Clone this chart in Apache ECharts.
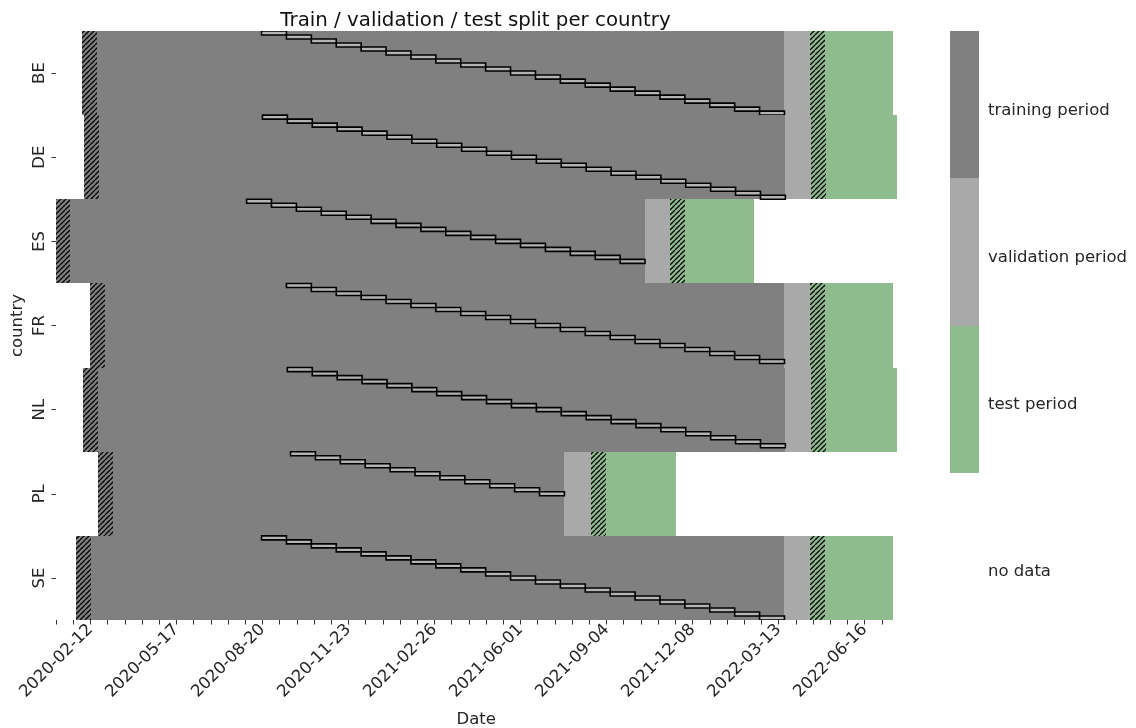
<!DOCTYPE html>
<html>
<head>
<meta charset="utf-8">
<script src="https://cdn.jsdelivr.net/npm/echarts@6/dist/echarts.min.js"></script>
<style>
  html, body { margin: 0; padding: 0; background: #fff; }
  #chart { width: 1136px; height: 728px; }
</style>
</head>
<body>
<div id="chart"></div>
<script>
// Countries, top to bottom
const countries = ['BE', 'DE', 'ES', 'FR', 'NL', 'PL', 'SE'];
// First day of the training period
const trainStart = ['2020-02-03', '2020-02-05', '2020-01-05', '2020-02-12', '2020-02-04', '2020-02-21', '2020-01-28'];
// First day of the validation period
const valStart = ['2022-03-20', '2022-03-21', '2021-10-17', '2022-03-20', '2022-03-21', '2021-07-20', '2022-03-20'];
// First day of the test period
const testStart = ['2022-04-17', '2022-04-18', '2021-11-14', '2022-04-17', '2022-04-18', '2021-08-18', '2022-04-17'];
// Last day of the test period
const testEnd = ['2022-07-17', '2022-07-21', '2022-02-13', '2022-07-17', '2022-07-21', '2021-11-19', '2022-07-17'];
// Number of rolling folds inside the training period (the last one ends at validation start)
const foldCount = [21, 21, 16, 20, 20, 11, 21];
const foldDays = 27.5;      // length of one fold, days
const warmupDays = 16.5;    // hatched warm-up window at the start of training and of test
const maxFolds = 21;        // fold slots stacked inside one country band

// Date axis
const firstDay = '2020-01-05';
const lastDay = '2022-07-21';
const tickStepDays = 19;
const tickLabels = ['2020-02-12', '2020-05-17', '2020-08-20', '2020-11-23', '2021-02-26',
                    '2021-06-01', '2021-09-04', '2021-12-08', '2022-03-13', '2022-06-16'];

// Colour bar: categories, colours and where each label sits on the 0..4 bar scale
const periodNames = ['training period', 'validation period', 'test period', 'no data'];
const periodColors = ['#808080', '#a9a9a9', '#8fbc8f', '#ffffff'];
const periodTickPos = [0.54, 1.54, 2.54, 3.67];

const DAY = 86400000;
const BASE = Date.parse(firstDay + 'T00:00:00Z');
const dayOf = s => Math.round((Date.parse(s + 'T00:00:00Z') - BASE) / DAY);
const dateOf = d => new Date(BASE + d * DAY).toISOString().slice(0, 10);

const lastIdx = dayOf(lastDay);
const tickDays = [];
for (let d = 0; d <= lastIdx; d += tickStepDays) tickDays.push(d);
const labelDays = tickLabels.map(dayOf);

// one row per country: [row, trainStart, valStart, testStart, testEnd, folds]
const rows = countries.map((c, i) => [
  i, dayOf(trainStart[i]), dayOf(valStart[i]), dayOf(testStart[i]), dayOf(testEnd[i]), foldCount[i]
]);

// diagonal hatch pattern
function makeHatch() {
  const s = 5;
  const cv = document.createElement('canvas');
  cv.width = s; cv.height = s;
  const ctx = cv.getContext('2d');
  ctx.strokeStyle = '#000';
  ctx.lineWidth = 1.3;
  ctx.beginPath();
  for (const o of [-s, 0, s]) {
    ctx.moveTo(o, s);
    ctx.lineTo(o + s, 0);
  }
  ctx.stroke();
  return { image: cv, repeat: 'repeat' };
}
const hatch = makeHatch();

function renderRow(params, api) {
  const row = api.value(0);
  const tS = api.value(1), vS = api.value(2), teS = api.value(3), tE = api.value(4), n = api.value(5);
  const bandH = api.size([0, 1])[1];
  const yc = api.coord([0, row])[1];
  const top = Math.round(yc - bandH / 2);
  const bottom = Math.round(yc + bandH / 2);
  const h = bottom - top;
  // a day's cell spans [d - 0.5, d + 0.5]
  const X = d => api.coord([d, row])[0];
  const XR = d => Math.round(X(d));
  const rect = (x0, x1, y0, hh, style) => ({
    type: 'rect', shape: { x: x0, y: y0, width: x1 - x0, height: hh }, style
  });
  const children = [];
  children.push(rect(XR(tS - 0.5), XR(vS - 0.5), top, h, { fill: periodColors[0] }));
  children.push(rect(XR(vS - 0.5), XR(teS - 0.5), top, h, { fill: periodColors[1] }));
  children.push(rect(XR(teS - 0.5), XR(tE + 0.5), top, h, { fill: periodColors[2] }));
  // rolling folds, stepping down one slot each
  const fh = bandH / maxFolds;
  const ftop = yc - bandH / 2;
  for (let j = 0; j < n; j++) {
    const a = vS - 0.5 - (n - j) * foldDays;
    const b = a + foldDays;
    children.push(rect(X(a), X(b), ftop + j * fh, fh, {
      fill: '#b4b4b4', stroke: '#000', lineWidth: 1.6
    }));
  }
  // warm-up windows
  children.push(rect(XR(tS - 0.5), XR(tS - 0.5 + warmupDays), top, h, { fill: hatch }));
  children.push(rect(XR(teS - 0.5), XR(teS - 0.5 + warmupDays), top, h, { fill: hatch }));
  return { type: 'group', children };
}

function renderBarSegment(params, api) {
  const i = api.value(0);
  const p0 = api.coord([0, i]);
  const p1 = api.coord([1, i + 1]);
  const y0 = Math.round(p0[1]), y1 = Math.round(p1[1]);
  return {
    type: 'rect',
    shape: { x: Math.round(p0[0]), y: y0, width: Math.round(p1[0] - p0[0]), height: y1 - y0 },
    style: { fill: periodColors[i] }
  };
}

const textColor = '#262626';
const fontFamily = 'DejaVu Sans';
const fs = 16.5;

const chart = echarts.init(document.getElementById('chart'), null, { renderer: 'canvas' });
chart.setOption({
  animation: false,
  backgroundColor: '#fff',
  textStyle: { fontFamily },
  title: {
    text: 'Train / validation / test split per country',
    left: 470.5, top: 6, textAlign: 'center',
    textStyle: { fontFamily, fontSize: 19.8, fontWeight: 'normal', color: '#111' }
  },
  grid: [
    { left: 55.55, top: 31, width: 841.2, height: 589, containLabel: false, outerBoundsMode: 'none' },
    { left: 950, top: 31, width: 29, height: 589, containLabel: false, outerBoundsMode: 'none' }
  ],
  xAxis: [
    {
      gridIndex: 0, type: 'value', min: -0.5, max: lastIdx + 0.5,
      name: 'Date', nameLocation: 'middle', nameGap: 91, nameMoveOverlap: false,
      nameTextStyle: { fontFamily, fontSize: fs, color: textColor },
      axisLine: { show: false },
      splitLine: { show: false },
      axisTick: { show: true, customValues: tickDays, length: 4.5, lineStyle: { color: '#333', width: 1 } },
      axisLabel: {
        customValues: labelDays, rotate: 45, margin: 7,
        fontFamily, fontSize: fs, color: textColor,
        formatter: v => dateOf(v)
      }
    },
    { gridIndex: 1, type: 'value', min: 0, max: 1, show: false }
  ],
  yAxis: [
    {
      gridIndex: 0, type: 'category', data: countries, inverse: true,
      name: 'country', nameLocation: 'middle', nameGap: 29, nameRotate: 90, nameMoveOverlap: false,
      nameTextStyle: { fontFamily, fontSize: fs, color: textColor },
      axisLine: { show: false },
      splitLine: { show: false },
      axisTick: { show: true, alignWithLabel: true, length: 4.5, lineStyle: { color: '#333' } },
      axisLabel: { rotate: 90, margin: 7.5, fontFamily, fontSize: fs, color: textColor }
    },
    {
      gridIndex: 1, type: 'value', min: 0, max: periodNames.length, inverse: true, position: 'right',
      axisLine: { show: false },
      splitLine: { show: false },
      axisTick: { show: true, customValues: periodTickPos, length: 4.5, lineStyle: { color: '#333' } },
      axisLabel: {
        customValues: periodTickPos, margin: 9, fontFamily, fontSize: fs, color: textColor,
        formatter: v => {
          let best = 0;
          periodTickPos.forEach((p, k) => { if (Math.abs(p - v) < Math.abs(periodTickPos[best] - v)) best = k; });
          return periodNames[best];
        }
      }
    }
  ],
  series: [
    {
      type: 'custom', xAxisIndex: 0, yAxisIndex: 0,
      renderItem: renderRow,
      data: rows,
      encode: { x: [1, 2, 3, 4], y: 0 },
      clip: true
    },
    {
      type: 'custom', xAxisIndex: 1, yAxisIndex: 1,
      renderItem: renderBarSegment,
      data: periodNames.map((n, i) => [i]),
      encode: { y: 0 }
    }
  ]
});
</script>
</body>
</html>
